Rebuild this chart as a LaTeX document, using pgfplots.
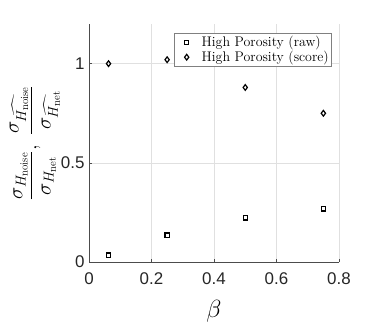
\documentclass[border=0pt]{standalone}
\usepackage{amsmath}
\usepackage{fontspec}
\newfontfamily\ticksf{Liberation Sans}
\usepackage{pgfplots}
\pgfplotsset{compat=1.18}

\pgfplotsset{
    markleg/.style={legend image code/.code={\path[draw=none, fill=none] (0bp,-3bp) rectangle (24bp,3bp); \draw[##1] plot coordinates {(11bp,0bp)};}},
}

\begin{document}
\begin{tikzpicture}[x=1bp,y=1bp]
\path[use as bounding box] (0,0) rectangle (374,332);
\begin{axis}[
    at={(89bp,70bp)}, anchor=south west,
    scale only axis,
    width=250bp, height=238bp,
    xmin=0, xmax=0.8,
    ymin=0, ymax=1.2,
    xtick={0,0.2,0.4,0.6,0.8},
    ytick={0,0.5,1},
    axis x line*=bottom,
    axis y line*=left,
    axis line style={black!70, line width=0.6pt, -},
    tick style={black!70, line width=0.6pt},
    tick align=inside,
    major tick length=3bp,
    grid=major,
    grid style={black!12, line width=0.5pt},
    /pgf/number format/assume math mode=true,
    ticklabel style={font=\fontsize{17}{17}\ticksf, text=black!85},
    xticklabel style={yshift=-7bp},
    yticklabel style={xshift=-1bp},
    xlabel={$\beta$},
    xlabel style={font=\fontsize{28}{28}\selectfont, yshift=-9bp},
    ylabel={$\displaystyle\frac{\sigma_{H_{\mathrm{noise}}}}{\sigma_{H_{\mathrm{net}}}},\ \frac{\sigma_{\widehat{H_{\mathrm{noise}}}}}{\sigma_{\widehat{H_{\mathrm{net}}}}}$},
    ylabel style={font=\fontsize{22}{22}\selectfont, yshift=-6bp},
    legend style={font=\fontsize{14}{15}\selectfont, at={(0.972,0.962)}, anchor=north east,
        draw=black!50, line width=0.5pt, inner sep=1bp, row sep=-1bp,
        cells={anchor=west}},
    legend cell align=left,
    mark size=2.6bp,
]
\addplot[only marks, markleg, mark=square, mark options={black, line width=1.2pt, scale=0.8}]
    coordinates {(0.0625,0.035) (0.25,0.136) (0.5,0.222) (0.75,0.268)};
\addlegendentry{High Porosity (raw)}
\addplot[only marks, markleg, mark=diamond, mark options={black, line width=1.2pt, scale=1.1}]
    coordinates {(0.0625,1.0) (0.25,1.02) (0.5,0.88) (0.75,0.75)};
\addlegendentry{High Porosity (score)}
\end{axis}
\end{tikzpicture}
\end{document}
